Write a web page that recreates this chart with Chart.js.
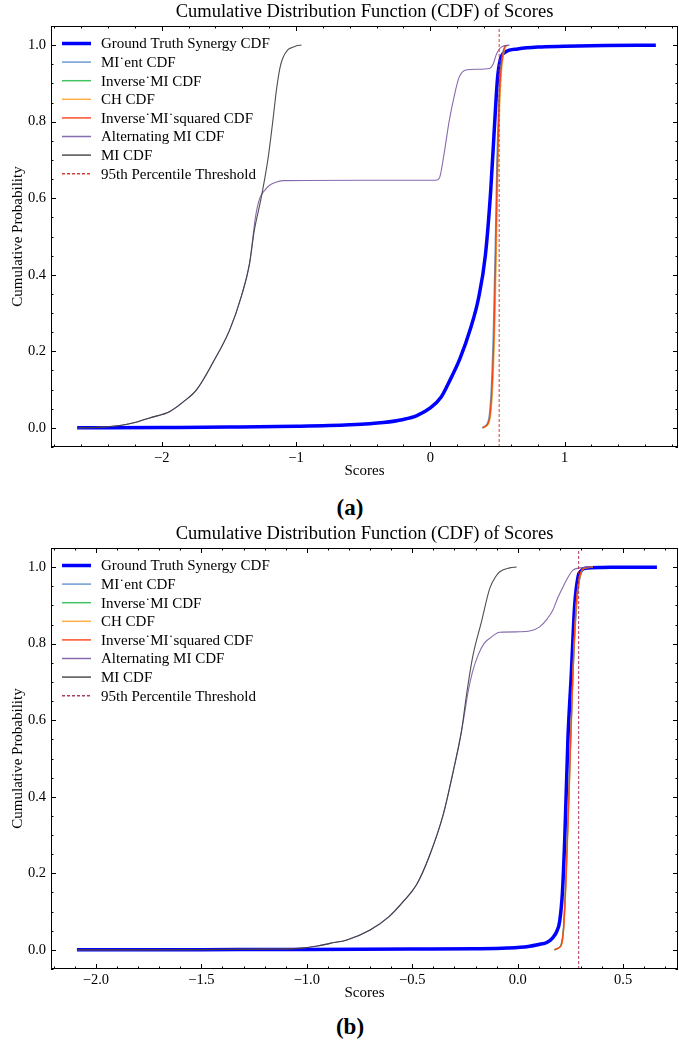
<!DOCTYPE html>
<html>
<head>
<meta charset="utf-8">
<title>CDF of Scores</title>
<script src="https://cdn.jsdelivr.net/npm/chart.js@4.4.1/dist/chart.umd.min.js"></script>
<style>
  body { margin: 0; background: #fff; width: 679px; height: 1046px; position: relative; overflow: hidden; }
  .panel { position: absolute; left: 0; width: 679px; height: 490px; }
  .cap { position: absolute; left: 0; width: 700px; text-align: center; font-family: "Liberation Serif", serif; font-weight: bold; font-size: 23px; line-height: 26px; }
</style>
</head>
<body>
<div class="panel" style="top:0px"><canvas id="cA" width="679" height="490"></canvas></div>
<div class="cap" style="top:495px">(a)</div>
<div class="panel" style="top:522px"><canvas id="cB" width="679" height="490"></canvas></div>
<div class="cap" style="top:1014px">(b)</div>

<script>
// ---- panel (a) ----
const aGtX = [-2.63, -2.0, -1.5, -1.0, -0.6, -0.35, -0.2, -0.1, 0.0, 0.08, 0.14, 0.22, 0.3, 0.36, 0.41, 0.45, 0.48, 0.5, 0.52, 0.56, 0.65, 0.8, 1.0, 1.3, 1.68];
const aGtY = [0.0, 0.001, 0.002, 0.004, 0.008, 0.014, 0.022, 0.032, 0.052, 0.08, 0.12, 0.18, 0.26, 0.34, 0.45, 0.62, 0.8, 0.91, 0.96, 0.982, 0.99, 0.995, 0.997, 0.999, 1.0];
const aFastY = [0.0, 0.004, 0.012, 0.035, 0.11, 0.26, 0.48, 0.7, 0.84, 0.93, 0.975, 0.995, 1.0];
const aMiEntX = [0.385, 0.405, 0.425, 0.44, 0.455, 0.47, 0.484, 0.496, 0.508, 0.521, 0.536, 0.552, 0.568];
const aInvMiX = [0.392, 0.412, 0.432, 0.447, 0.462, 0.477, 0.49, 0.502, 0.514, 0.527, 0.542, 0.557, 0.572];
const aChX = [0.395, 0.415, 0.435, 0.45, 0.465, 0.48, 0.493, 0.505, 0.517, 0.53, 0.545, 0.56, 0.575];
const aInvSqX = [0.39, 0.41, 0.43, 0.445, 0.46, 0.475, 0.488, 0.5, 0.512, 0.525, 0.54, 0.555, 0.57];
const aMiX = [-2.62, -2.45, -2.3, -2.2, -2.09, -1.94, -1.84, -1.74, -1.62, -1.494, -1.408, -1.346, -1.31, -1.26, -1.21, -1.17, -1.147, -1.12, -1.1, -1.06, -1.02, -0.99, -0.96];
const aMiY = [0.0, 0.002, 0.007, 0.014, 0.026, 0.043, 0.068, 0.1, 0.17, 0.256, 0.343, 0.43, 0.517, 0.6, 0.7, 0.81, 0.88, 0.94, 0.965, 0.988, 0.995, 0.999, 1.0];
const aAltX = [-2.62, -2.45, -2.3, -2.2, -2.09, -1.94, -1.84, -1.74, -1.62, -1.494, -1.408, -1.346, -1.3, -1.27, -1.23, -1.197, -1.15, -1.1, -0.5, 0.04, 0.067, 0.1, 0.14, 0.19, 0.216, 0.265, 0.35, 0.44, 0.47, 0.49, 0.515, 0.54, 0.59];
const aAltY = [0.0, 0.002, 0.007, 0.014, 0.026, 0.043, 0.068, 0.1, 0.17, 0.256, 0.343, 0.43, 0.555, 0.6, 0.622, 0.634, 0.642, 0.646, 0.647, 0.647, 0.652, 0.71, 0.8, 0.885, 0.917, 0.935, 0.937, 0.939, 0.952, 0.974, 0.99, 0.997, 1.0];
const aThreshold = 0.513;
const aXTicks = [-2, -1, 0, 1];
const aXRange = [-2.825, 1.845];

// ---- panel (b) ----
const bGtX = [-2.09, -1.5, -1.0, -0.5, -0.2, -0.05, 0.05, 0.1, 0.14, 0.167, 0.185, 0.199, 0.212, 0.223, 0.238, 0.254, 0.27, 0.286, 0.3, 0.32, 0.4, 0.5, 0.66];
const bGtY = [0.0, 0.0005, 0.001, 0.002, 0.003, 0.005, 0.009, 0.014, 0.02, 0.032, 0.048, 0.075, 0.15, 0.29, 0.55, 0.72, 0.9, 0.975, 0.99, 0.997, 0.999, 1.0, 1.0];
const bFastY = [0.0, 0.004, 0.013, 0.06, 0.2, 0.46, 0.72, 0.91, 0.965, 0.99, 0.998, 1.0];
const bMiEntX = [0.172, 0.188, 0.205, 0.217, 0.229, 0.245, 0.262, 0.281, 0.293, 0.306, 0.322, 0.355];
const bInvMiX = [0.174, 0.19, 0.206, 0.218, 0.23, 0.246, 0.262, 0.279, 0.291, 0.303, 0.321, 0.355];
const bChX = [0.176, 0.191, 0.208, 0.219, 0.231, 0.247, 0.262, 0.279, 0.291, 0.303, 0.321, 0.356];
const bInvSqX = [0.175, 0.19, 0.207, 0.218, 0.23, 0.246, 0.261, 0.278, 0.29, 0.302, 0.32, 0.355];
const bMiX = [-2.09, -1.5, -1.2, -1.04, -0.95, -0.89, -0.81, -0.7, -0.61, -0.537, -0.48, -0.417, -0.354, -0.306, -0.267, -0.243, -0.212, -0.172, -0.133, -0.105, -0.085, -0.038, -0.006];
const bMiY = [0.0, 0.0005, 0.002, 0.004, 0.01, 0.017, 0.026, 0.052, 0.087, 0.13, 0.17, 0.248, 0.352, 0.466, 0.57, 0.666, 0.77, 0.857, 0.944, 0.975, 0.988, 0.998, 1.0];
const bAltX = [-2.09, -1.5, -1.2, -1.04, -0.95, -0.89, -0.81, -0.7, -0.61, -0.537, -0.48, -0.417, -0.354, -0.306, -0.267, -0.25, -0.235, -0.215, -0.188, -0.16, -0.133, -0.085, 0.01, 0.057, 0.104, 0.14, 0.167, 0.19, 0.215, 0.24, 0.262, 0.294, 0.35];
const bAltY = [0.0, 0.0005, 0.002, 0.004, 0.01, 0.017, 0.026, 0.052, 0.087, 0.13, 0.17, 0.248, 0.352, 0.466, 0.57, 0.625, 0.675, 0.725, 0.77, 0.8, 0.814, 0.83, 0.831, 0.833, 0.844, 0.865, 0.888, 0.92, 0.949, 0.975, 0.992, 0.998, 1.0];
const bThreshold = 0.289;
const bXTicks = [-2.0, -1.5, -1.0, -0.5, 0.0, 0.5];
const bXRange = [-2.213, 0.76];

const yTicks = [0.0, 0.2, 0.4, 0.6, 0.8, 1.0];
const yRange = [-0.05, 1.05];

const labels = ['Ground Truth Synergy CDF', 'MI\u02D9ent CDF', 'Inverse\u02D9MI CDF', 'CH CDF',
  'Inverse\u02D9MI\u02D9squared CDF', 'Alternating MI CDF', 'MI CDF', '95th Percentile Threshold'];

const serif = '"Liberation Serif", "DejaVu Serif", serif';

function pts(xs, ys) {
  return xs.map((x, i) => ({x: x, y: ys[i]}));
}
function minus(s) {
  return s.replace('-', '\u2212');
}

// box + inward ticks on all four sides, and the legend inside the plot
const frameTicks = {
  id: 'frameTicks',
  afterDraw(chart, args, opts) {
    const {ctx, chartArea: a, scales: {x, y}} = chart;
    ctx.save();
    ctx.strokeStyle = '#000';
    ctx.lineWidth = 1;
    ctx.strokeRect(a.left + 0.5, a.top + 0.5, a.right - a.left - 1, a.bottom - a.top - 1);

    ctx.beginPath();
    const xt = (v, len) => {
      const px = Math.round(x.getPixelForValue(v)) + 0.5;
      ctx.moveTo(px, a.bottom); ctx.lineTo(px, a.bottom - len);
      ctx.moveTo(px, a.top); ctx.lineTo(px, a.top + len);
    };
    const yt = (v, len) => {
      const py = Math.round(y.getPixelForValue(v)) + 0.5;
      ctx.moveTo(a.left, py); ctx.lineTo(a.left + len, py);
      ctx.moveTo(a.right, py); ctx.lineTo(a.right - len, py);
    };
    for (let k = Math.ceil(x.min / opts.xMinor); k * opts.xMinor <= x.max; k++) xt(k * opts.xMinor, 2.5);
    for (let k = Math.ceil(y.min / 0.05); k * 0.05 <= y.max; k++) yt(k * 0.05, 2.5);
    opts.xMajor.forEach(v => xt(v, 5));
    yTicks.forEach(v => yt(v, 5));
    ctx.stroke();

    // legend
    ctx.font = '15px ' + serif;
    ctx.textBaseline = 'middle';
    ctx.textAlign = 'left';
    chart.data.datasets.forEach((ds, i) => {
      const ly = a.top + 17.5 + i * 18.6;
      ctx.beginPath();
      ctx.strokeStyle = ds.borderColor;
      ctx.lineWidth = i === 0 ? 3.5 : 1.5;
      ctx.setLineDash(ds.borderDash || []);
      ctx.moveTo(62, ly); ctx.lineTo(91, ly);
      ctx.stroke();
      ctx.setLineDash([]);
      ctx.fillStyle = '#000';
      ctx.fillText(ds.label, 101, ly + 1);
    });
    ctx.restore();
  }
};

function makeChart(id, p) {
  const line = (label, data, color, width, order, extra) => Object.assign({
    label: label, data: data, borderColor: color, borderWidth: width, order: order,
    pointRadius: 0, fill: false, cubicInterpolationMode: 'monotone'
  }, extra || {});

  return new Chart(document.getElementById(id), {
    type: 'line',
    data: {
      datasets: [
        line(labels[0], p.gt, '#0000ff', 3.5, 8),
        line(labels[1], p.miEnt, 'rgba(70,130,200,0.8)', 1.3, 7),
        line(labels[2], p.invMi, 'rgba(20,180,60,0.8)', 1.3, 6),
        line(labels[3], p.ch, 'rgba(255,160,40,0.85)', 1.3, 5),
        line(labels[4], p.invSq, 'rgba(255,60,20,0.9)', 1.3, 4),
        line(labels[5], p.alt, 'rgba(115,80,160,0.85)', 1.1, 3),
        line(labels[6], p.mi, 'rgba(60,60,60,0.9)', 1.1, 2),
        line(labels[7], [{x: p.thr, y: yRange[0]}, {x: p.thr, y: yRange[1]}], p.thrColor, 1, 1,
          {borderDash: [3, 2], cubicInterpolationMode: 'default', tension: 0})
      ]
    },
    options: {
      responsive: false,
      animation: false,
      devicePixelRatio: 1,
      layout: {padding: {left: 0, right: 1, top: 0, bottom: 0}},
      plugins: {
        legend: {display: false},
        tooltip: {enabled: false},
        title: {
          display: true,
          fullSize: false,
          text: 'Cumulative Distribution Function (CDF) of Scores',
          color: '#000',
          font: {family: serif, size: 18.5, weight: 'normal'},
          padding: {top: 1, bottom: 2.8}
        },
        frameTicks: {xMajor: p.xTicks, xMinor: p.xMinor}
      },
      scales: {
        x: {
          type: 'linear',
          min: p.xRange[0], max: p.xRange[1],
          afterBuildTicks: s => { s.ticks = p.xTicks.map(v => ({value: v})); },
          afterFit: s => { s.height = 43; },
          grid: {display: false, drawTicks: false},
          border: {display: false},
          ticks: {
            color: '#000', padding: 2, maxRotation: 0, autoSkip: false,
            font: {family: serif, size: 14.5},
            callback: v => minus(p.xDigits ? v.toFixed(p.xDigits) : String(v))
          },
          title: {display: true, text: 'Scores', color: '#000', font: {family: serif, size: 15}, padding: {top: 0, bottom: 10}}
        },
        y: {
          type: 'linear',
          min: yRange[0], max: yRange[1],
          afterBuildTicks: s => { s.ticks = yTicks.map(v => ({value: v})); },
          afterFit: s => { s.width = 51; },
          grid: {display: false, drawTicks: false},
          border: {display: false},
          ticks: {color: '#000', padding: 5, font: {family: serif, size: 14.5}, callback: v => v.toFixed(1)},
          title: {display: true, text: 'Cumulative Probability', color: '#000', font: {family: serif, size: 15}, padding: {top: 9, bottom: 0}}
        }
      }
    },
    plugins: [frameTicks]
  });
}

makeChart('cA', {
  gt: pts(aGtX, aGtY), miEnt: pts(aMiEntX, aFastY), invMi: pts(aInvMiX, aFastY), ch: pts(aChX, aFastY),
  invSq: pts(aInvSqX, aFastY), alt: pts(aAltX, aAltY), mi: pts(aMiX, aMiY), thr: aThreshold,
  thrColor: 'rgba(215,40,40,0.9)', xTicks: aXTicks, xRange: aXRange, xMinor: 0.2, xDigits: 0
});
makeChart('cB', {
  gt: pts(bGtX, bGtY), miEnt: pts(bMiEntX, bFastY), invMi: pts(bInvMiX, bFastY), ch: pts(bChX, bFastY),
  invSq: pts(bInvSqX, bFastY), alt: pts(bAltX, bAltY), mi: pts(bMiX, bMiY), thr: bThreshold,
  thrColor: 'rgba(170,40,70,0.9)', xTicks: bXTicks, xRange: bXRange, xMinor: 0.1, xDigits: 1
});
</script>
</body>
</html>
